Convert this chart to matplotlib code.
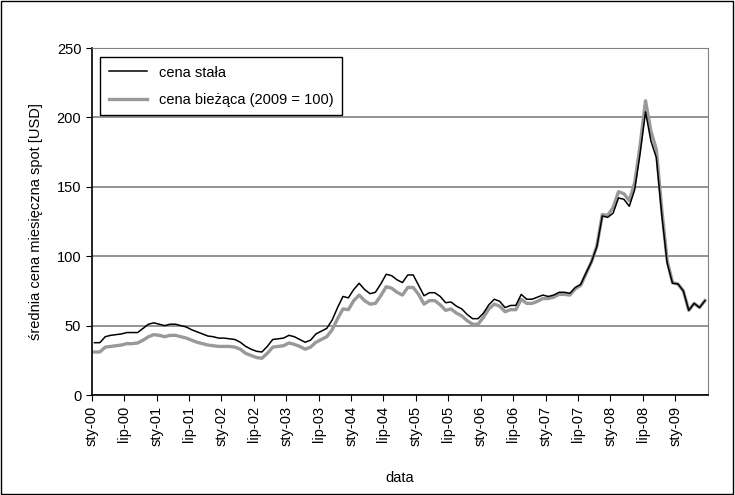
import numpy as np
import matplotlib.pyplot as plt

plt.rcParams['font.family'] = ['Liberation Sans', 'DejaVu Sans']

# miesięczne ceny, sty-2000 .. cze-2009
cena_stala = [37.7, 37.7, 42, 43, 43.5, 44, 45, 45, 45, 48, 51, 52,
              51, 50, 51, 51, 50, 49, 47, 45.5, 44, 42.5, 42, 41,
              41, 40.5, 40, 38, 35, 33, 31.5, 31, 35, 40, 40.5, 41,
              43, 42, 40, 38, 39.5, 44, 46, 48, 54, 63, 71, 70,
              76, 80.5, 76, 73, 74, 80, 87, 86, 83, 81, 86.5, 86.5,
              79, 71.5, 73.7, 73.7, 71, 66.5, 67, 64, 62, 58, 55, 55,
              59, 65, 69, 67.5, 63, 64.5, 64.6, 72.5, 69, 69, 70.5, 72,
              71, 72, 74, 74, 73.3, 77.5, 79.7, 88, 96, 107, 129, 128,
              131, 142, 141, 136, 148, 174, 204, 183, 171, 130, 95, 80.5,
              80, 75, 61, 66, 63, 68]
cena_biezaca = [31, 31, 34.5, 35, 35.5, 36, 37, 37, 37.5, 39.5, 42, 43.5,
                43, 42, 43, 43, 42, 41, 39.5, 38, 37, 36, 35.5, 35,
                35, 35, 34.5, 33, 30, 28.5, 27, 26.5, 30, 34.5, 35, 35.5,
                37.5, 36.5, 35, 33, 34.5, 38, 40, 42, 47, 55, 62, 61.5,
                68, 72, 68, 65.5, 66, 71.5, 78, 77, 74, 72, 77.5, 77.5,
                72.5, 65.5, 68, 68, 65, 61, 62, 59, 57, 53.5, 51, 51,
                56, 62, 65.5, 64, 60, 61.5, 61.5, 69, 66, 66, 67.5, 69.5,
                69.5, 70.5, 72.5, 72.5, 72, 76.5, 79, 87.5, 96, 107.5, 130, 129.5,
                135, 146.5, 145, 140, 153, 180, 212, 190, 177, 134, 97, 81,
                80, 75, 61, 66, 63, 68]
etykiety = ['sty-00', 'lip-00', 'sty-01', 'lip-01', 'sty-02', 'lip-02', 'sty-03',
            'lip-03', 'sty-04', 'lip-04', 'sty-05', 'lip-05', 'sty-06', 'lip-06',
            'sty-07', 'lip-07', 'sty-08', 'lip-08', 'sty-09']

fig = plt.figure(figsize=(7.35, 4.95), dpi=100)
ax = fig.add_axes([0.1248, 0.202, 0.838, 0.701])
fig.patches.append(plt.Rectangle((0.002, 0.002), 0.995, 0.995, transform=fig.transFigure,
                                 fill=False, edgecolor='black', lw=1))

x = np.arange(len(cena_stala))
ax.plot(x, cena_biezaca, color='#999999', lw=2.4, label='cena bieżąca (2009 = 100)', zorder=2)
ax.plot(x, cena_stala, color='black', lw=1.1, label='cena stała', zorder=3)

ax.set_xlim(-0.5, len(x) - 0.5)
ax.set_ylim(0, 250)
ax.set_yticks(range(0, 251, 50))
ax.set_xticks(np.arange(len(etykiety)) * 6 - 0.5)
ax.set_xticklabels(etykiety, rotation=90)
ax.yaxis.grid(True, color='#808080', lw=1.2)
ax.set_axisbelow(True)
ax.tick_params(labelsize=10.5, direction='out', length=4, color='black')
for s in ['top', 'right']:
    ax.spines[s].set_color('#808080')
ax.spines['left'].set_linewidth(1.2)
ax.spines['bottom'].set_linewidth(1.2)

ax.set_ylabel('średnia cena miesięczna spot [USD]', fontsize=10.5, labelpad=10)
ax.set_xlabel('data', fontsize=10.5, labelpad=18)

h, l = ax.get_legend_handles_labels()
leg = ax.legend(h[::-1], l[::-1], loc='upper left', fontsize=10.5, fancybox=False,
                edgecolor='black', framealpha=1, borderaxespad=0.6, handlelength=2.6,
                labelspacing=0.9, borderpad=0.6)
leg.get_frame().set_linewidth(1)

fig.savefig('out.png', dpi=100)
